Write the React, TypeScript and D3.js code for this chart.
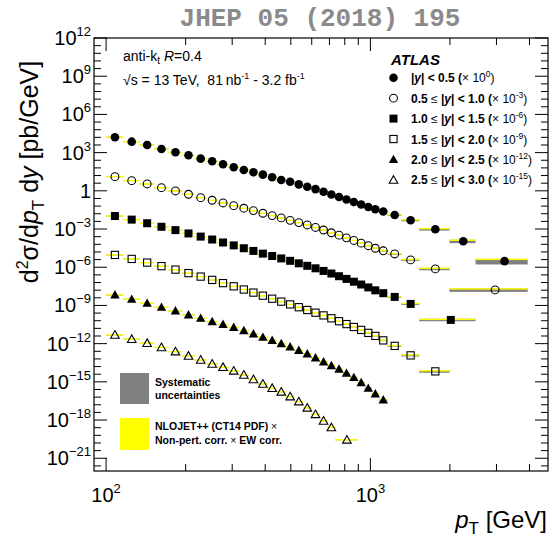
import React from 'react';
import * as d3 from 'd3';

const W = 552;
const H = 538;

// Jet pT bin edges [GeV]
const ptEdges = [100, 116, 134, 152, 172, 194, 216, 240, 264, 290, 318, 346, 376, 408, 442, 478, 516, 556, 598, 642, 688, 736, 786, 838, 894, 952, 1012, 1076, 1162, 1310, 1530, 1992, 2500, 3937];

// Binning used in each rapidity slice (high-pT bins merged where statistics are low)
const edgesY00 = ptEdges;
const edgesY05 = [...ptEdges.slice(0, 32), 3937];
const edgesY10 = [...ptEdges.slice(0, 31), 2500];
const edgesY15 = ptEdges.slice(0, 32);
const edgesY20 = ptEdges.slice(0, 29);
const edgesY25 = [...ptEdges.slice(0, 22), 894];

// d2sigma/dpT dy [pb/GeV] per rapidity slice, before the display scale factor
const xsecY00 = [1.61e4, 7.24e3, 3.99e3, 1.94e3, 1.07e3, 621, 336, 210, 122, 71.0, 43.6, 28.8, 18.7, 11.7, 7.16, 5.2, 3.2, 2.1, 1.36, 0.85, 0.52, 0.33, 0.21, 0.134, 0.085, 0.054, 0.036, 0.024, 0.0128, 4.92e-3, 9.66e-4, 1.11e-4, 3.0e-6];
const xsecY05 = [1.30e4, 6.30e3, 3.47e3, 1.78e3, 980, 540, 292, 182, 112, 68.7, 43.0, 27.9, 17.4, 11.3, 7.45, 4.8, 3.2, 2.1, 1.33, 0.84, 0.51, 0.33, 0.203, 0.127, 0.078, 0.049, 0.031, 0.0195, 0.011, 3.75e-3, 7.4e-4, 1.66e-5];
const xsecY10 = [1.05e4, 5.5e3, 2.85e3, 1.5e3, 820, 450, 255, 150, 88, 52, 31.1, 19.1, 11.7, 7.60, 4.92, 3.19, 2.03, 1.29, 0.822, 0.514, 0.321, 0.197, 0.121, 0.0730, 0.0440, 0.0261, 0.0154, 9.14e-3, 4.68e-3, 1.32e-3, 7.33e-5];
const xsecY15 = [9.27e3, 4.50e3, 2.31e3, 1.22e3, 650, 345, 184, 101, 56.7, 31.8, 17.8, 10.2, 5.82, 3.38, 2.00, 1.21, 0.728, 0.439, 0.269, 0.165, 0.0979, 0.0579, 0.0343, 0.0203, 0.0120, 7.0e-3, 4.06e-3, 1.80e-3, 6.67e-4, 1.20e-4, 6.65e-6];
const xsecY20 = [6.71e3, 3.09e3, 1.50e3, 728, 372, 181, 99.5, 53.8, 32.4, 18.9, 10.6, 5.83, 3.21, 1.80, 1.01, 0.557, 0.296, 0.157, 0.0762, 0.0370, 0.0191, 0.0100, 4.79e-3, 2.19e-3, 8.71e-4, 3.16e-4, 1.15e-4, 3.89e-5];
const xsecY25 = [4.88e3, 2.24e3, 1.09e3, 508, 238, 109, 53.1, 25.8, 14.2, 7.28, 3.53, 1.56, 0.693, 0.319, 0.164, 0.070, 0.0283, 9.1e-3, 2.8e-3, 8.6e-4, 2.6e-4, 2.8e-5];

// Display scale factor exponents (x 10^n)
const scaleExponents = [0, -3, -6, -9, -12, -15];
const rapidityLow = [null, '0.5', '1.0', '1.5', '2.0', '2.5'];
const rapidityHigh = ['0.5', '1.0', '1.5', '2.0', '2.5', '3.0'];

// Relative systematic uncertainty and theory/data ratio per pT bin index
const sysRelUnc = [0.09, 0.08, 0.07, 0.06, 0.06, 0.055, 0.055, 0.05, 0.05, 0.05, 0.05, 0.05, 0.05, 0.05, 0.05, 0.055, 0.055, 0.06, 0.06, 0.065, 0.07, 0.075, 0.08, 0.09, 0.1, 0.11, 0.12, 0.13, 0.15, 0.18, 0.22, 0.3, 0.45];
const theoryRatio = [1.02, 1.01, 1.0, 1.0, 0.99, 1.0, 1.0, 1.01, 1.0, 1.0, 1.0, 1.01, 1.0, 1.0, 1.0, 1.01, 1.0, 1.02, 1.01, 1.02, 1.03, 1.02, 1.03, 1.04, 1.03, 1.05, 1.04, 1.06, 1.07, 1.09, 1.12, 1.2, 1.4];
const theoryRelUnc = 0.13;

const xTickValues = [100, 200, 300, 400, 500, 600, 700, 800, 900, 1000, 2000, 3000, 4000];
const xMajorTicks = [100, 1000];

type MarkerKind = 'circle' | 'circleOpen' | 'square' | 'squareOpen' | 'tri' | 'triOpen';

const series: { edges: number[]; values: number[]; marker: MarkerKind }[] = [
  { edges: edgesY00, values: xsecY00, marker: 'circle' },
  { edges: edgesY05, values: xsecY05, marker: 'circleOpen' },
  { edges: edgesY10, values: xsecY10, marker: 'square' },
  { edges: edgesY15, values: xsecY15, marker: 'squareOpen' },
  { edges: edgesY20, values: xsecY20, marker: 'tri' },
  { edges: edgesY25, values: xsecY25, marker: 'triOpen' },
];

const FONT = '"Liberation Sans", Arial, Helvetica, sans-serif';
const PLOT = { left: 94, right: 548, top: 38, bottom: 471 };

const xScale = d3.scaleLog().domain([90, 4700]).range([PLOT.left, PLOT.right]);
const yScale = d3.scaleLog().domain([1e-22, 1e12]).range([PLOT.bottom, PLOT.top]);

const GRAY = '#808080';
const YELLOW = '#ffff00';

function Marker({ kind, cx, cy }: { kind: MarkerKind; cx: number; cy: number }) {
  const sw = 1.1;
  switch (kind) {
    case 'circle':
      return <circle cx={cx} cy={cy} r={4.3} fill="#000" />;
    case 'circleOpen':
      return <circle cx={cx} cy={cy} r={3.9} fill="none" stroke="#000" strokeWidth={sw} />;
    case 'square':
      return <rect x={cx - 4} y={cy - 4} width={8} height={8} fill="#000" />;
    case 'squareOpen':
      return <rect x={cx - 3.6} y={cy - 3.6} width={7.2} height={7.2} fill="none" stroke="#000" strokeWidth={sw} />;
    case 'tri':
      return <path d={`M${cx},${cy - 4.8}L${cx + 4.7},${cy + 3.6}L${cx - 4.7},${cy + 3.6}Z`} fill="#000" />;
    case 'triOpen':
      return <path d={`M${cx},${cy - 4.3}L${cx + 4.3},${cy + 3.3}L${cx - 4.3},${cy + 3.3}Z`} fill="none" stroke="#000" strokeWidth={sw} />;
  }
}

type Seg = { t: string; size?: number; shift?: number; italic?: boolean; bold?: boolean };

// Text made of pieces with their own size and baseline offset (sub/superscripts)
function RichText({ x, y, segs, size, anchor = 'start', bold = false, fill = '#000', transform }: {
  x: number; y: number; segs: Seg[]; size: number; anchor?: string; bold?: boolean; fill?: string; transform?: string;
}) {
  let prev = 0;
  return (
    <text x={x} y={y} fontFamily={FONT} fontSize={size} textAnchor={anchor} fontWeight={bold ? 'bold' : 'normal'} fill={fill} transform={transform}>
      {segs.map((s, i) => {
        const shift = s.shift ?? 0;
        const dy = prev - shift;
        prev = shift;
        return (
          <tspan key={i} dy={dy} fontSize={s.size ?? size} fontStyle={s.italic ? 'italic' : 'normal'}
            fontWeight={s.bold === undefined ? undefined : s.bold ? 'bold' : 'normal'}>
            {s.t}
          </tspan>
        );
      })}
    </text>
  );
}

function powerLabel(e: number): Seg[] {
  if (e === 0) return [{ t: '1' }];
  const exp = e < 0 ? `\u2212${-e}` : `${e}`;
  return [{ t: '10' }, { t: exp, size: 13, shift: 9 }];
}

export default function App() {
  // ROOT-style log axis: primary division every 3 decades, 5 secondaries
  const yTicks = d3.range(0, 57).map((k) => ({ e: 12 - 0.6 * k, major: k % 5 === 0 })).filter((d) => d.e >= -22 + 1e-9);

  const legendY0 = 77.7;
  const legendDy = 20.45;

  return (
    <svg width={W} height={H} style={{ position: 'absolute', left: 0, top: 0, background: '#fff' }}>
      <rect x={0} y={0} width={W} height={H} fill="#fff" />
      <defs>
        <clipPath id="frame">
          <rect x={PLOT.left} y={PLOT.top} width={PLOT.right - PLOT.left} height={PLOT.bottom - PLOT.top} />
        </clipPath>
      </defs>

      <text x={320} y={26} fontFamily='"Liberation Mono", "Courier New", monospace' fontWeight="bold" fontSize={26} fill="#8a8a8a" textAnchor="middle">
        JHEP 05 (2018) 195
      </text>

      {/* uncertainty bands */}
      <g clipPath="url(#frame)">
        {series.map((s, si) => {
          const f = Math.pow(10, scaleExponents[si]);
          return (
            <g key={`g${si}`}>
              {s.values.map((v0, i) => {
                const v = v0 * f;
                const x0 = xScale(s.edges[i]);
                const x1 = xScale(s.edges[i + 1]);
                const sy = sysRelUnc[i];
                const gy0 = yScale(v * (1 + sy));
                const gy1 = yScale(v * (1 - sy));
                return <rect key={i} x={x0} y={gy0} width={x1 - x0} height={Math.max(gy1 - gy0, 0.8)} fill={GRAY} />;
              })}
            </g>
          );
        })}
        {series.map((s, si) => {
          const f = Math.pow(10, scaleExponents[si]);
          return (
            <g key={`y${si}`}>
              {s.values.map((v0, i) => {
                const t = v0 * f * theoryRatio[i];
                const x0 = xScale(s.edges[i]);
                const x1 = xScale(s.edges[i + 1]);
                const ty0 = yScale(t * (1 + theoryRelUnc));
                const ty1 = yScale(t * (1 - theoryRelUnc));
                return <rect key={i} x={x0} y={ty0} width={x1 - x0} height={ty1 - ty0} fill={YELLOW} />;
              })}
            </g>
          );
        })}
        {series.map((s, si) => {
          const f = Math.pow(10, scaleExponents[si]);
          return (
            <g key={`m${si}`}>
              {s.values.map((v0, i) => (
                <Marker key={i} kind={s.marker} cx={xScale((s.edges[i] + s.edges[i + 1]) / 2)} cy={yScale(v0 * f)} />
              ))}
            </g>
          );
        })}
      </g>

      {/* frame and ticks */}
      <rect x={PLOT.left} y={PLOT.top} width={PLOT.right - PLOT.left} height={PLOT.bottom - PLOT.top} fill="none" stroke="#000" strokeWidth={1.2} />
      {yTicks.map((d, i) => {
        const yy = yScale(Math.pow(10, d.e));
        const len = d.major ? 13 : 7;
        return (
          <g key={`yt${i}`} stroke="#000" strokeWidth={1}>
            <line x1={PLOT.left} x2={PLOT.left + len} y1={yy} y2={yy} />
            <line x1={PLOT.right} x2={PLOT.right - len} y1={yy} y2={yy} />
          </g>
        );
      })}
      {xTickValues.map((v, i) => {
        const xx = xScale(v);
        const len = xMajorTicks.includes(v) ? 13 : 7;
        return (
          <g key={`xt${i}`} stroke="#000" strokeWidth={1}>
            <line x1={xx} x2={xx} y1={PLOT.bottom} y2={PLOT.bottom - len} />
            <line x1={xx} x2={xx} y1={PLOT.top} y2={PLOT.top + len} />
          </g>
        );
      })}

      {/* tick labels */}
      {yTicks.filter((d) => d.major).map((d, i) => {
        const e = Math.round(d.e);
        return <RichText key={`yl${i}`} x={91} y={yScale(Math.pow(10, e)) + 7} size={20} anchor="end" segs={powerLabel(e)} />;
      })}
      {xMajorTicks.map((v, i) => (
        <RichText key={`xl${i}`} x={xScale(v)} y={502} size={20} anchor="middle" segs={powerLabel(Math.round(Math.log10(v)))} />
      ))}

      {/* axis titles */}
      <RichText x={547} y={528} size={24} anchor="end"
        segs={[{ t: 'p', italic: true }, { t: 'T', size: 17, shift: -6 }, { t: ' [GeV]' }]} />
      <RichText x={0} y={0} size={25} anchor="middle" transform="translate(38,172) rotate(-90)"
        segs={[{ t: 'd' }, { t: '2', size: 16, shift: 10 }, { t: '\u03c3/d' }, { t: 'p', italic: true }, { t: 'T', size: 17, shift: -6 }, { t: ' d' }, { t: 'y', italic: true }, { t: ' [pb/GeV]' }]} />

      {/* annotations */}
      <RichText x={123} y={61} size={14}
        segs={[{ t: 'anti-k' }, { t: 't', size: 10, shift: -3 }, { t: ' ' }, { t: 'R', italic: true }, { t: '=0.4' }]} />
      <RichText x={123} y={85} size={14}
        segs={[{ t: '\u221as = 13 TeV,\u00a0\u00a081\u2009nb' }, { t: '-1', size: 9, shift: 6 }, { t: ' - 3.2 fb' }, { t: '-1', size: 9, shift: 6 }]} />
      <text x={391} y={65} fontFamily={FONT} fontSize={15} fontWeight="bold" fontStyle="italic">ATLAS</text>

      {series.map((s, i) => {
        const cy = legendY0 + i * legendDy;
        const lo = rapidityLow[i];
        const segs: Seg[] = [];
        if (lo) {
          segs.push({ t: `${lo} ` }, { t: '\u2264', bold: false }, { t: ' |' });
        } else {
          segs.push({ t: '|' });
        }
        segs.push({ t: 'y', italic: true }, { t: `| < ${rapidityHigh[i]} (` }, { t: '\u00d7', bold: false }, { t: ' 10', bold: false });
        const e = scaleExponents[i];
        segs.push({ t: e === 0 ? '0' : `-${-e}`, size: 8.5, shift: 5, bold: false }, { t: ')', bold: false });
        return (
          <g key={`lg${i}`}>
            <Marker kind={s.marker} cx={393.5} cy={cy} />
            <RichText x={411} y={cy + 4.5} size={12} bold segs={segs} />
          </g>
        );
      })}

      {/* band legend */}
      <rect x={120} y={373} width={29} height={31} fill={GRAY} />
      <text x={155} y={386} fontFamily={FONT} fontSize={10.5} fontWeight="bold">Systematic</text>
      <text x={155} y={399} fontFamily={FONT} fontSize={10.5} fontWeight="bold">uncertainties</text>
      <rect x={120} y={418} width={29} height={32} fill={YELLOW} />
      <RichText x={155} y={430} size={10.5} bold segs={[{ t: 'NLOJET++ (CT14 PDF) ' }, { t: '\u00d7', bold: false }]} />
      <RichText x={155} y={444} size={10.5} bold segs={[{ t: 'Non-pert. corr. ' }, { t: '\u00d7', bold: false }, { t: ' EW corr.' }]} />
    </svg>
  );
}
